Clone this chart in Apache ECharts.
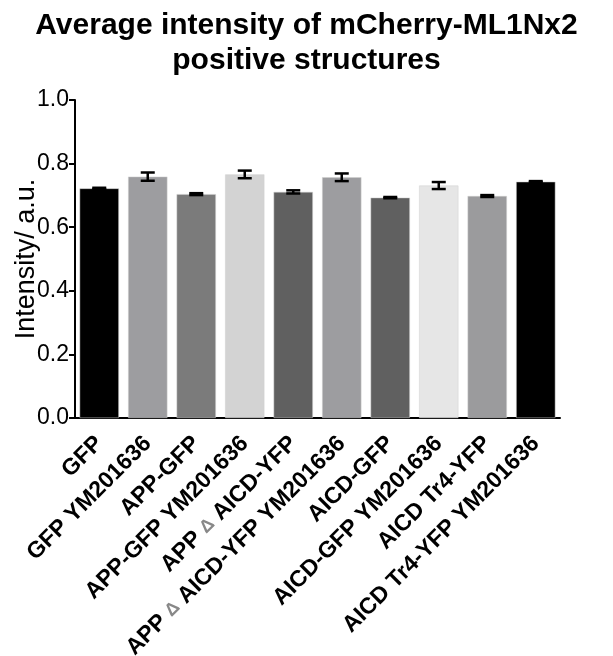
<!DOCTYPE html>
<html><head><meta charset="utf-8">
<script src="https://cdn.jsdelivr.net/npm/echarts@6/dist/echarts.min.js"></script>
<style>html,body{margin:0;padding:0;background:#fff}#c{width:613px;height:656px}</style>
</head><body><div id="c"></div>
<script>
const categories = ['GFP','GFP YM201636','APP-GFP','APP-GFP YM201636','APP Δ AICD-YFP','APP Δ AICD-YFP YM201636','AICD-GFP','AICD-GFP YM201636','AICD Tr4-YFP','AICD Tr4-YFP YM201636'];
const means = [0.722,0.759,0.704,0.766,0.711,0.757,0.693,0.731,0.698,0.743];
const errors = [0.002,0.013,0.003,0.012,0.005,0.012,0.002,0.011,0.003,0.002];
const barColors = ['#000000','#9d9da0','#7b7b7b','#d3d3d3','#606060','#9d9da0','#606060','#e6e6e6','#9b9b9d','#000000'];
const yTicks = [0.0,0.2,0.4,0.6,0.8,1.0];

const chart = echarts.init(document.getElementById('c'));
const font = '"Liberation Sans", Arial, sans-serif';
chart.setOption({
  animation:false,
  title:{text:'Average intensity of mCherry-ML1Nx2\npositive structures',left:'center',top:3,
    textStyle:{fontFamily:font,fontWeight:'bold',fontSize:30,lineHeight:35,color:'#000'}},
  grid:{left:75,right:53,top:100,bottom:238,containLabel:false,outerBoundsMode:'none'},
  xAxis:{type:'category',data:categories,
    axisLine:{lineStyle:{color:'#000',width:2}},
    axisTick:{alignWithLabel:true,length:6,lineStyle:{color:'#000',width:2}},
    axisLabel:{rotate:45,interval:0,margin:22,fontFamily:font,fontSize:23,fontWeight:'bold',color:'#000',
      formatter:v=>v.replace('Δ','{d|Δ}'),
      rich:{d:{color:'#888',fontSize:18,fontFamily:font}}}},
  yAxis:{type:'value',min:0,max:1,interval:0.2,
    name:'Intensity/ a.u.',nameLocation:'middle',nameGap:35,nameMoveOverlap:false,
    nameTextStyle:{fontFamily:font,fontSize:27,color:'#000'},
    splitLine:{show:false},
    axisLine:{show:true,lineStyle:{color:'#000',width:2}},
    axisTick:{show:true,length:6,lineStyle:{color:'#000',width:2}},
    axisLabel:{fontFamily:font,fontSize:23,color:'#000',margin:6,formatter:v=>v.toFixed(1)}},
  series:[
    {type:'bar',data:means.map((v,i)=>({value:v,itemStyle:{color:barColors[i]}})),barCategoryGap:'19%',
     itemStyle:{borderColor:'#cfcfcf',borderWidth:0.5}},
    {type:'custom',data:means.map((v,i)=>[i,v,errors[i]]),z:10,
     renderItem:(params,api)=>{
       const i=api.value(0),m=api.value(1),e=api.value(2);
       const top=api.coord([i,m+e]),bot=api.coord([i,m-e]);
       const hw=7;
       const st={stroke:'#000',lineWidth:2.5};
       return {type:'group',children:[
         {type:'line',shape:{x1:top[0],y1:top[1],x2:bot[0],y2:bot[1]},style:st},
         {type:'line',shape:{x1:top[0]-hw,y1:top[1],x2:top[0]+hw,y2:top[1]},style:st},
         {type:'line',shape:{x1:bot[0]-hw,y1:bot[1],x2:bot[0]+hw,y2:bot[1]},style:st}
       ]};
     }}
  ]
});
</script></body></html>
